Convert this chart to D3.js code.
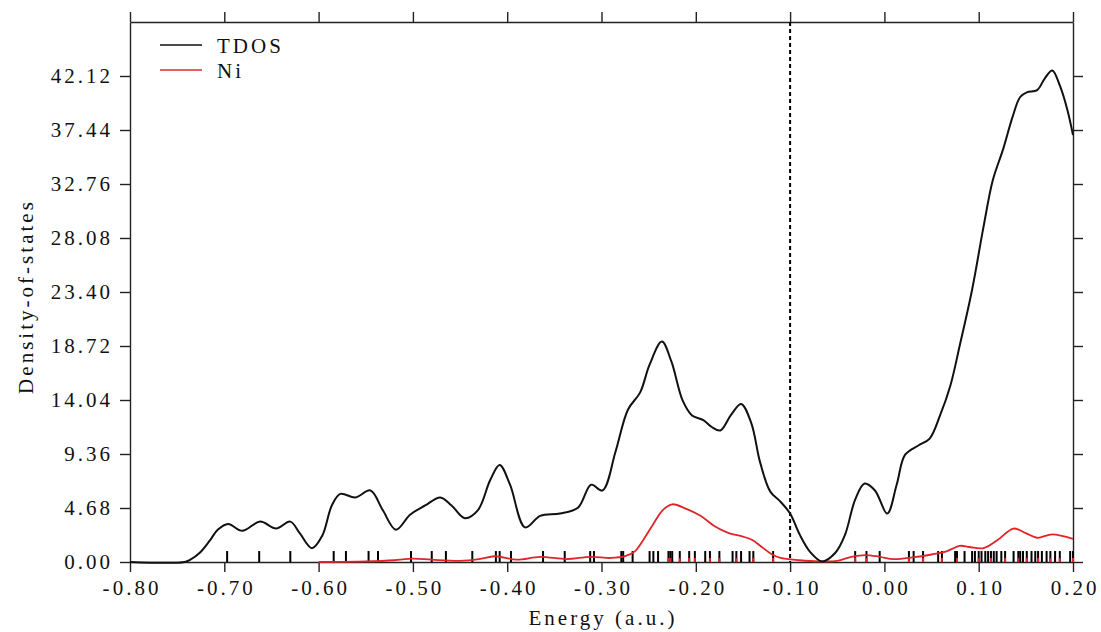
<!DOCTYPE html>
<html>
<head>
<meta charset="utf-8">
<script src="https://cdn.jsdelivr.net/npm/d3@7"></script>
<style>
  body { margin: 0; background: #fff; }
</style>
</head>
<body>
<div id="chart"></div>
<script>
// energies (a.u.) and density of states
var tdosE = [-0.80, -0.742, -0.736, -0.726, -0.715, -0.707, -0.696, -0.681, -0.662, -0.645, -0.630, -0.620, -0.607,
    -0.596, -0.586, -0.577, -0.561, -0.545, -0.532, -0.518, -0.503, -0.487, -0.471, -0.459, -0.445, -0.431, -0.418,
    -0.408, -0.397, -0.381, -0.365, -0.344, -0.325, -0.311, -0.299, -0.285, -0.272, -0.259, -0.249, -0.236, -0.226,
    -0.214, -0.204, -0.192, -0.183, -0.174, -0.163, -0.152, -0.141, -0.132, -0.121, -0.111, -0.100, -0.090, -0.079,
    -0.066, -0.052, -0.042, -0.031, -0.021, -0.010, 0.003, 0.013, 0.022, 0.036, 0.048, 0.059, 0.070, 0.080, 0.093,
    0.105, 0.115, 0.126, 0.136, 0.144, 0.151, 0.162, 0.170, 0.178, 0.186, 0.194, 0.200];
var tdosV = [0, 0, 0.2, 0.8, 1.9, 2.8, 3.3, 2.7, 3.5, 2.9, 3.5, 2.5, 1.2,
    2.3, 4.9, 5.9, 5.6, 6.2, 4.5, 2.8, 4.1, 4.9, 5.6, 4.9, 3.8, 4.5, 7.1,
    8.4, 6.7, 3.0, 4.0, 4.2, 4.7, 6.7, 6.2, 9.6, 13.2, 14.7, 17.1, 19.1, 17.4,
    14.0, 12.7, 12.3, 11.7, 11.4, 12.7, 13.7, 12.0, 8.7, 6.1, 5.3, 4.2, 2.4, 0.9,
    0.05, 0.8, 2.3, 5.4, 6.8, 6.2, 4.2, 6.7, 9.3, 10.1, 10.7, 12.7, 15.3, 18.8, 23.6,
    29.0, 33.1, 35.8, 38.6, 40.3, 40.7, 40.9, 41.9, 42.6, 41.3, 39.2, 37.0];

var niE = [-0.60, -0.55, -0.52, -0.50, -0.48, -0.45, -0.43, -0.413, -0.39, -0.365, -0.337, -0.312, -0.29, -0.275,
    -0.265, -0.255, -0.245, -0.235, -0.225, -0.21, -0.195, -0.18, -0.165, -0.15, -0.14, -0.13, -0.12, -0.11, -0.09,
    -0.07, -0.05, -0.035, -0.02, -0.005, 0.01, 0.03, 0.05, 0.065, 0.08, 0.09, 0.105, 0.12, 0.137, 0.15, 0.162,
    0.178, 0.20];
var niV = [0, 0.05, 0.15, 0.3, 0.2, 0.1, 0.25, 0.5, 0.2, 0.45, 0.25, 0.45, 0.35, 0.5,
    0.9, 2.0, 3.3, 4.5, 5.0, 4.6, 4.0, 3.1, 2.5, 2.2, 1.9, 1.3, 0.7, 0.35, 0.15,
    0.05, 0.1, 0.45, 0.6, 0.45, 0.25, 0.4, 0.65, 0.9, 1.4, 1.3, 1.2, 1.9, 2.9, 2.5, 2.1,
    2.4, 2.0];

// orbital energies (stick spectrum)
var levels = [-0.697, -0.663, -0.630, -0.584, -0.571, -0.547, -0.537, -0.502, -0.480, -0.465, -0.437, -0.412,
    -0.408, -0.396, -0.362, -0.339, -0.312, -0.308, -0.279, -0.277, -0.267, -0.249, -0.245, -0.240, -0.229,
    -0.227, -0.225, -0.217, -0.207, -0.201, -0.190, -0.185, -0.175, -0.161, -0.157, -0.152, -0.143, -0.139,
    -0.118, -0.031, -0.019, -0.005, 0.026, 0.031, 0.041, 0.057, 0.061, 0.075, 0.077, 0.085, 0.093, 0.096,
    0.100, 0.103, 0.107, 0.110, 0.113, 0.116, 0.119, 0.124, 0.128, 0.137, 0.142, 0.144, 0.147, 0.151, 0.156,
    0.160, 0.163, 0.167, 0.172, 0.176, 0.181, 0.186, 0.197, 0.200];
var niLevels = [-0.229, -0.227, -0.217, -0.207, -0.201, -0.185, -0.175, -0.157, -0.139, -0.118, -0.031, -0.019,
    0.026, 0.041, 0.061, 0.077, 0.100, 0.113, 0.128, 0.142, 0.151, 0.163, 0.176, 0.186, 0.200];

var xTicks = [-0.8, -0.7, -0.6, -0.5, -0.4, -0.3, -0.2, -0.1, 0.0, 0.1, 0.2];
var yTicks = [0, 4.68, 9.36, 14.04, 18.72, 23.40, 28.08, 32.76, 37.44, 42.12];
var fermi = -0.10;
var seriesNames = ["TDOS", "Ni"];
var seriesColors = ["#111111", "#e0242a"];

var W = 1101, H = 632;
var margin = { top: 22, right: 28, bottom: 70, left: 130 };
var w = W - margin.left - margin.right,
    h = H - margin.top - margin.bottom;

var svg = d3.select("#chart").append("svg")
    .attr("width", W)
    .attr("height", H);

var g = svg.append("g")
    .attr("transform", "translate(" + margin.left + "," + margin.top + ")");

var xScale = d3.scaleLinear().domain([-0.8, 0.2]).range([0, w]);
var yScale = d3.scaleLinear().domain([0, 46.8]).range([h, 0]);

var fmt = function (d) { return Math.abs(d) < 1e-9 ? "0.00" : d.toFixed(2); };

// axes on all four sides
g.append("g").attr("class", "axis")
    .attr("transform", "translate(0," + h + ")")
    .call(d3.axisBottom(xScale).tickValues(xTicks).tickFormat(fmt).tickSize(10).tickSizeOuter(0).tickPadding(8));
g.append("g").attr("class", "axis")
    .call(d3.axisTop(xScale).tickValues(xTicks).tickFormat("").tickSize(10).tickSizeOuter(0));
g.append("g").attr("class", "axis")
    .call(d3.axisLeft(yScale).tickValues(yTicks).tickFormat(fmt).tickSize(10).tickSizeOuter(0).tickPadding(10));
g.append("g").attr("class", "axis")
    .attr("transform", "translate(" + w + ",0)")
    .call(d3.axisRight(yScale).tickValues(yTicks).tickFormat("").tickSize(10).tickSizeOuter(0));

g.selectAll(".axis")
    .attr("font-family", null)
    .attr("font-size", null);
g.selectAll(".axis path, .axis line")
    .attr("stroke", "#222")
    .attr("stroke-width", 1.4);

// stick spectrum
g.selectAll(".lvl")
    .data(levels)
    .enter()
    .append("line")
    .attr("class", "lvl")
    .attr("x1", function (d) { return xScale(d); })
    .attr("x2", function (d) { return xScale(d); })
    .attr("y1", yScale(0))
    .attr("y2", yScale(0.95))
    .attr("stroke", "#000")
    .attr("stroke-width", 2);

g.selectAll(".nilvl")
    .data(niLevels)
    .enter()
    .append("line")
    .attr("class", "nilvl")
    .attr("x1", function (d) { return xScale(d); })
    .attr("x2", function (d) { return xScale(d); })
    .attr("y1", yScale(0))
    .attr("y2", yScale(0.35))
    .attr("stroke", seriesColors[1])
    .attr("stroke-width", 2);

// fermi level
g.append("line")
    .attr("x1", xScale(fermi))
    .attr("x2", xScale(fermi))
    .attr("y1", 0)
    .attr("y2", h)
    .attr("stroke", "#000")
    .attr("stroke-width", 2)
    .attr("stroke-dasharray", "4,3");

var line = d3.line()
    .x(function (d) { return xScale(d[0]); })
    .y(function (d) { return yScale(Math.max(0, d[1])); })
    .curve(d3.curveCatmullRom.alpha(0.5));

g.append("path")
    .datum(d3.zip(niE, niV))
    .attr("d", line)
    .attr("fill", "none")
    .attr("stroke", seriesColors[1])
    .attr("stroke-width", 1.8);

g.append("path")
    .datum(d3.zip(tdosE, tdosV))
    .attr("d", line)
    .attr("fill", "none")
    .attr("stroke", seriesColors[0])
    .attr("stroke-width", 2);

// legend
var legend = svg.append("g");
seriesNames.forEach(function (name, i) {
    var ly = 45 + i * 25;
    legend.append("line")
        .attr("x1", 160).attr("x2", 202)
        .attr("y1", ly).attr("y2", ly)
        .attr("stroke", seriesColors[i])
        .attr("stroke-width", 1.5);
    legend.append("text")
        .attr("x", 217)
        .attr("y", ly + 8)
        .text(name);
});

// axis titles
svg.append("text")
    .attr("x", margin.left + w / 2)
    .attr("y", 625)
    .attr("text-anchor", "middle")
    .text("Energy (a.u.)");

svg.append("text")
    .attr("transform", "rotate(-90)")
    .attr("x", -298)
    .attr("y", 33)
    .attr("text-anchor", "middle")
    .text("Density-of-states");

// every label: set in a large serif size, then scaled down to about 21px
var k = 0.7;
svg.selectAll("text").each(function () {
    var t = d3.select(this),
        x = +t.attr("x") || 0,
        y = +t.attr("y") || 0,
        tr = t.attr("transform") || "",
        n = t.text().length;
    t.attr("transform", tr + " translate(" + x + "," + y + ") scale(" + k + ")")
        .attr("x", 0)
        .attr("y", 0)
        .attr("dx", d3.range(n).map(function (j) { return j === 0 ? 0 : 4.3; }).join(" "))
        .attr("fill", "#111")
        .style("font-family", "'Liberation Serif'")
        .style("font-size", "30px");
});
</script>
</body>
</html>
